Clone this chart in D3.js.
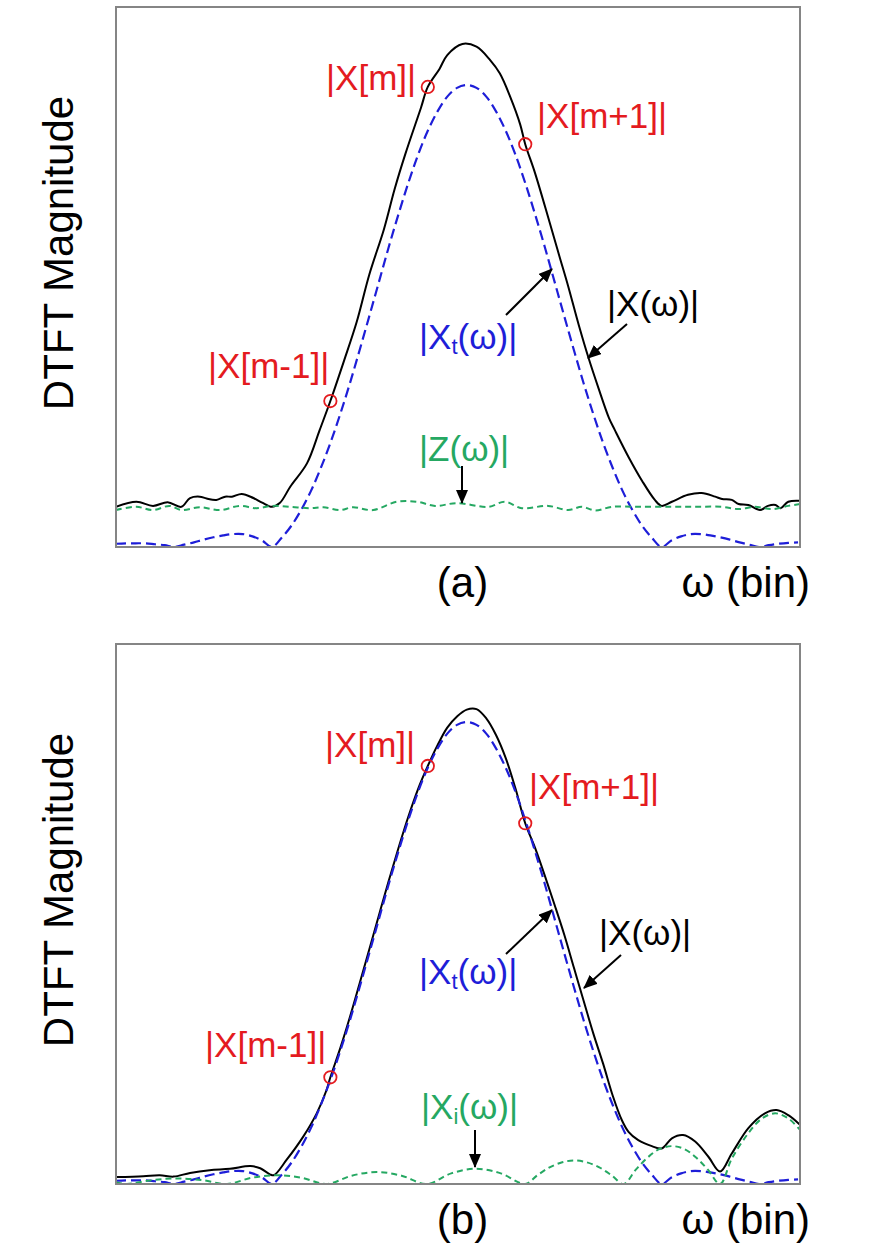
<!DOCTYPE html>
<html><head><meta charset="utf-8">
<script src="https://cdn.jsdelivr.net/npm/d3@7"></script>
<style>body{margin:0;background:#fff} svg{display:block}</style>
</head><body>
<svg id="chart" width="884" height="1255"></svg>
<script>
// ---- data (omega in bins relative to bin m, magnitude normalised to |Xt| peak) ----
const omegaGrid = [-3.2,-3.1,-3.0,-2.9,-2.8,-2.7,-2.6,-2.5,-2.4,-2.3,-2.2,-2.1,-2.0,-1.9,-1.8,-1.7,-1.6,-1.5,-1.4,-1.3,-1.2,-1.1,-1.0,-0.9,-0.8,-0.7,-0.6,-0.5,-0.4,-0.3,-0.2,-0.1,0.0,0.1,0.2,0.3,0.4,0.5,0.6,0.7,0.8,0.9,1.0,1.1,1.2,1.3,1.4,1.5,1.6,1.7,1.8,1.9,2.0,2.1,2.2,2.3,2.4,2.5,2.6,2.7,2.8,2.9,3.0,3.1,3.2,3.3,3.4,3.5,3.6,3.7,3.8];
// |Xt(ω)| (blue dashed), same in both panels
const xtMag = [0.007,0.008,0.008,0.008,0.006,0.004,0,0.005,0.010,0.016,0.021,0.025,0.028,0.028,0.023,0.014,0,0.020,0.046,0.080,0.121,0.170,0.225,0.287,0.354,0.426,0.500,0.575,0.650,0.721,0.788,0.849,0.901,0.943,0.975,0.994,1.000,0.994,0.975,0.943,0.901,0.849,0.788,0.721,0.650,0.575,0.500,0.426,0.354,0.287,0.225,0.170,0.121,0.080,0.046,0.020,0,0.014,0.023,0.028,0.028,0.025,0.021,0.016,0.010,0.005,0,0.004,0.007,0.009,0.010];

// panel (a) |X(ω)| black
const xOmegaA = [-3.20,-2.99,-2.82,-2.67,-2.53,-2.44,-2.34,-2.27,-2.17,-2.08,-2.01,-1.91,-1.79,-1.70,-1.60,-1.52,-1.41,-1.24,-1.11,-1.00,-0.86,-0.73,-0.60,-0.45,-0.34,-0.23,-0.07,0.00,0.12,0.20,0.355,0.50,0.64,0.74,0.845,0.948,1.00,1.10,1.25,1.35,1.44,1.55,1.65,1.75,1.86,1.92,2.06,2.20,2.33,2.40,2.505,2.67,2.81,2.95,3.02,3.12,3.19,3.29,3.41,3.49,3.57,3.62,3.70,3.82];
const xMagA = [0.087,0.098,0.089,0.097,0.087,0.106,0.109,0.105,0.102,0.109,0.109,0.115,0.106,0.096,0.087,0.095,0.131,0.181,0.253,0.316,0.403,0.487,0.590,0.688,0.775,0.851,0.951,0.996,1.035,1.065,1.089,1.083,1.054,1.025,0.975,0.915,0.872,0.810,0.703,0.630,0.565,0.480,0.409,0.345,0.279,0.253,0.195,0.143,0.102,0.089,0.098,0.113,0.117,0.109,0.104,0.102,0.093,0.091,0.080,0.089,0.091,0.084,0.098,0.100];
// panel (a) |Z(ω)| green
const zOmegaA = [-3.20,-2.99,-2.82,-2.65,-2.53,-2.34,-2.13,-1.93,-1.76,-1.59,-1.41,-1.21,-1.07,-0.90,-0.77,-0.56,-0.32,-0.11,0.075,0.30,0.62,0.79,0.965,1.235,1.44,1.58,1.72,1.89,2.16,2.505,2.775,3.02,3.19,3.36,3.53,3.70,3.82];
const zMagA = [0.080,0.087,0.080,0.089,0.080,0.086,0.080,0.089,0.084,0.089,0.087,0.084,0.086,0.080,0.086,0.080,0.098,0.098,0.089,0.095,0.087,0.098,0.084,0.089,0.080,0.087,0.079,0.087,0.087,0.087,0.087,0.087,0.082,0.087,0.082,0.089,0.093];

// panel (b) |X(ω)| black
const xOmegaB = [-3.20,-2.92,-2.75,-2.61,-2.44,-2.24,-2.03,-1.82,-1.72,-1.62,-1.58,-1.45,-1.28,-1.14,-1.04,-1.00,-0.9,-0.8,-0.7,-0.6,-0.5,-0.4,-0.3,-0.2,-0.1,0.0,0.1,0.2,0.3,0.4,0.5,0.6,0.7,0.8,0.9,1.0,1.1,1.2,1.3,1.4,1.5,1.6,1.7,1.8,1.9,1.99,2.06,2.16,2.30,2.40,2.505,2.62,2.744,2.88,3.00,3.12,3.29,3.46,3.58,3.70,3.82];
const xMagB = [0.015,0.017,0.019,0.016,0.024,0.030,0.033,0.039,0.034,0.021,0.019,0.052,0.102,0.153,0.203,0.231,0.293,0.361,0.434,0.508,0.583,0.657,0.728,0.795,0.855,0.905,0.950,0.988,1.012,1.027,1.028,1.008,0.972,0.922,0.856,0.781,0.728,0.668,0.605,0.540,0.468,0.396,0.325,0.260,0.190,0.139,0.113,0.095,0.082,0.077,0.099,0.106,0.092,0.059,0.027,0.066,0.121,0.153,0.160,0.149,0.128];
// panel (b) |Xi(ω)| green
const xiOmegaB = [-3.20,-3.09,-2.83,-2.575,-2.32,-2.06,-1.805,-1.55,-1.295,-1.04,-0.78,-0.525,-0.27,-0.01,0.24,0.495,0.75,1.00,1.125,1.25,1.38,1.505,1.63,1.76,1.885,2.01,2.135,2.26,2.38,2.505,2.63,2.75,2.875,3.00,3.12,3.29,3.43,3.566,3.70,3.82];
const xiMagB = [0.004,0,0.0085,0.012,0.0085,0,0.0135,0.019,0.0135,0,0.018,0.026,0.018,0,0.023,0.033,0.023,0,0.019,0.036,0.047,0.051,0.047,0.036,0.019,0,0.031,0.058,0.076,0.082,0.076,0.058,0.031,0,0.055,0.110,0.142,0.153,0.142,0.117];

// DFT samples (red circles)
const sampleBins = [-1, 0, 1];
const sampleMagA = [0.316, 0.996, 0.872];
const sampleMagB = [0.231, 0.905, 0.781];

const panelLabels = ["(a)", "(b)"];
const xAxisLabel = "ω (bin)";
const yAxisLabel = "DTFT Magnitude";

// ---- drawing ----
const svg = d3.select("#chart");
const FONT = "'Liberation Sans', Arial, Helvetica, sans-serif";
const C_BLACK = "#000", C_BLUE = "#1e1ed8", C_GREEN = "#25a862", C_RED = "#e41b1f";

const defs = svg.append("defs");
defs.append("marker").attr("id","arrow").attr("markerUnits","userSpaceOnUse")
  .attr("markerWidth",14).attr("markerHeight",12).attr("refX",13).attr("refY",6)
  .attr("orient","auto")
  .append("path").attr("d","M0,0 L14,6 L0,12 Z").attr("fill","#000");

const x = d3.scaleLinear().domain([-3.2, 3.82]).range([116, 800]);

const panels = [
  {top: 7, bottom: 547, black: [xOmegaA, xMagA], green: [zOmegaA, zMagA], samples: sampleMagA,
   labels: [
     {t:"|X[m]|", x:326, y:90, c:C_RED},
     {t:"|X[m+1]|", x:537, y:128, c:C_RED},
     {t:"|X[m-1]|", x:208, y:378, c:C_RED},
     {t:"|X(ω)|", x:607, y:316, c:C_BLACK},
     {t:["|X","t","(ω)|"], x:419, y:349, c:C_BLUE},
     {t:"|Z(ω)|", x:419, y:461, c:C_GREEN}],
   arrows: [[506,315,552,269],[627,324,588,358],[462,466,462,503]],
   ylabY: 253, xlabY: 597},
  {top: 644, bottom: 1184, black: [xOmegaB, xMagB], green: [xiOmegaB, xiMagB], samples: sampleMagB,
   labels: [
     {t:"|X[m]|", x:325, y:757, c:C_RED},
     {t:"|X[m+1]|", x:529, y:799, c:C_RED},
     {t:"|X[m-1]|", x:205, y:1057, c:C_RED},
     {t:"|X(ω)|", x:599, y:945, c:C_BLACK},
     {t:["|X","t","(ω)|"], x:419, y:984, c:C_BLUE},
     {t:["|X","i","(ω)|"], x:421, y:1119, c:C_GREEN}],
   arrows: [[506,954,552,910],[621,955,584,988],[475,1130,475,1167]],
   ylabY: 890, xlabY: 1234}
];

panels.forEach((p, i) => {
  const y = d3.scaleLinear().domain([0, 1.169]).range([p.bottom, p.top]);
  const g = svg.append("g");
  const clipId = "clip" + i;
  defs.append("clipPath").attr("id", clipId).append("rect")
    .attr("x", 116).attr("y", p.top).attr("width", 684).attr("height", p.bottom - p.top);

  const line = d3.line().x(d => x(d[0])).y(d => y(d[1])).curve(d3.curveCatmullRom.alpha(0.5));
  const zip = (a, b) => a.map((v, k) => [v, b[k]]);

  const curves = g.append("g").attr("clip-path", `url(#${clipId})`);
  curves.append("path").attr("d", line(zip(p.black[0], p.black[1])))
    .attr("fill","none").attr("stroke",C_BLACK).attr("stroke-width",2);
  curves.append("path").attr("d", line(zip(omegaGrid, xtMag)))
    .attr("fill","none").attr("stroke",C_BLUE).attr("stroke-width",2.2).attr("stroke-dasharray","10,5");
  curves.append("path").attr("d", line(zip(p.green[0], p.green[1])))
    .attr("fill","none").attr("stroke",C_GREEN).attr("stroke-width",2).attr("stroke-dasharray","6,4");

  // frame
  g.append("rect").attr("x",116).attr("y",p.top).attr("width",684).attr("height",p.bottom-p.top)
    .attr("fill","none").attr("stroke","#858585").attr("stroke-width",2);

  // sample circles
  g.selectAll("circle.s").data(sampleBins.map((b,k)=>[b,p.samples[k]])).enter()
    .append("circle").attr("cx",d=>x(d[0])).attr("cy",d=>y(d[1])).attr("r",6.2)
    .attr("fill","none").attr("stroke",C_RED).attr("stroke-width",1.8);

  // annotation labels
  p.labels.forEach(L => {
    const t = g.append("text").attr("x",L.x).attr("y",L.y).attr("fill",L.c)
      .attr("font-family",FONT).attr("font-size",35);
    if (Array.isArray(L.t)) {
      t.append("tspan").text(L.t[0]);
      t.append("tspan").attr("font-size",22).attr("dy",5).text(L.t[1]);
      t.append("tspan").attr("dy",-5).text(L.t[2]);
    } else t.text(L.t);
  });

  // arrows
  p.arrows.forEach(a => {
    g.append("line").attr("x1",a[0]).attr("y1",a[1]).attr("x2",a[2]).attr("y2",a[3])
      .attr("stroke","#000").attr("stroke-width",2).attr("marker-end","url(#arrow)");
  });

  // axis labels
  g.append("text").attr("transform",`translate(73,${p.ylabY}) rotate(-90)`)
    .attr("text-anchor","middle").attr("font-family",FONT).attr("font-size",42).attr("fill","#000")
    .text(yAxisLabel);
  g.append("text").attr("x",462.5).attr("y",p.xlabY).attr("text-anchor","middle")
    .attr("font-family",FONT).attr("font-size",42).attr("fill","#000").text(panelLabels[i]);
  g.append("text").attr("x",810).attr("y",p.xlabY).attr("text-anchor","end")
    .attr("font-family",FONT).attr("font-size",42).attr("fill","#000").text(xAxisLabel);
});
</script>
</body></html>
